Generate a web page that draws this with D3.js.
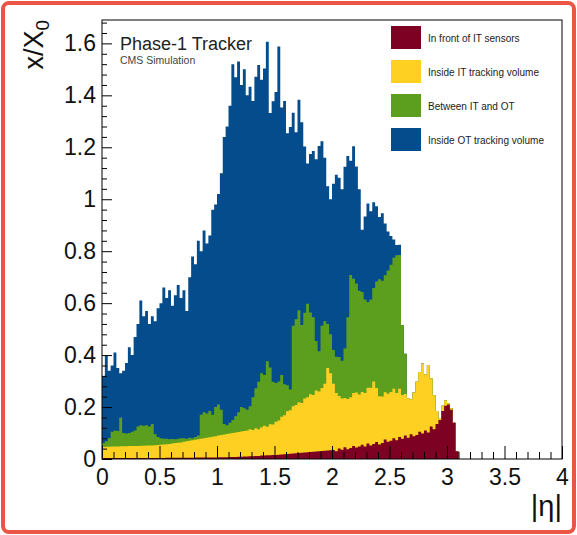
<!DOCTYPE html>
<html>
<head>
<meta charset="utf-8">
<script src="https://cdn.jsdelivr.net/npm/d3@7/dist/d3.min.js"></script>
<style>
  html, body { margin: 0; padding: 0; background: #fff; }
  svg { display: block; font-family: "Liberation Sans", Arial, Helvetica, sans-serif; }
</style>
</head>
<body>
<svg id="chart" width="577" height="535"></svg>
<script>
// Material budget of the Phase-1 tracker vs |eta|, bins of 0.025 starting at |eta| = 0
const binWidth = 0.025;

// In front of IT sensors
const frontIT = [
  0.004,0.004,0.004,0.004,0.004,0.004,0.004,0.004,0.004,0.004,
  0.004,0.004,0.004,0.004,0.004,0.004,0.004,0.004,0.004,0.004,
  0.004,0.004,0.005,0.005,0.005,0.005,0.005,0.005,0.005,0.005,
  0.005,0.005,0.006,0.006,0.006,0.006,0.006,0.006,0.006,0.006,
  0.007,0.007,0.007,0.007,0.008,0.008,0.008,0.009,0.009,0.010,
  0.010,0.011,0.011,0.012,0.012,0.013,0.013,0.014,0.014,0.015,
  0.015,0.016,0.017,0.018,0.019,0.020,0.021,0.022,0.023,0.024,
  0.025,0.026,0.027,0.028,0.029,0.030,0.031,0.032,0.033,0.034,
  0.035,0.030,0.040,0.036,0.045,0.038,0.042,0.050,0.044,0.048,
  0.055,0.048,0.060,0.052,0.058,0.065,0.056,0.062,0.075,0.066,
  0.070,0.080,0.072,0.085,0.078,0.090,0.082,0.095,0.088,0.092,
  0.105,0.098,0.110,0.102,0.125,0.115,0.135,0.150,0.185,0.205,
  0.210,0.190,0.140,0.030
];

// Inside IT tracking volume
const insideIT = [
  0.042,0.043,0.043,0.044,0.044,0.044,0.045,0.045,0.045,0.046,
  0.046,0.046,0.046,0.047,0.047,0.048,0.048,0.048,0.049,0.050,
  0.051,0.052,0.052,0.053,0.055,0.057,0.058,0.059,0.061,0.063,
  0.065,0.067,0.068,0.070,0.072,0.074,0.076,0.078,0.080,0.082,
  0.083,0.085,0.087,0.089,0.090,0.092,0.094,0.095,0.097,0.098,
  0.100,0.104,0.101,0.106,0.103,0.109,0.115,0.110,0.120,0.118,
  0.128,0.132,0.146,0.150,0.165,0.168,0.182,0.186,0.195,0.192,
  0.208,0.212,0.222,0.218,0.235,0.230,0.242,0.258,0.317,0.296,
  0.255,0.224,0.203,0.197,0.190,0.193,0.196,0.204,0.212,0.200,
  0.203,0.206,0.214,0.222,0.240,0.208,0.186,0.179,0.182,0.185,
  0.188,0.190,0.182,0.185,0.168,0.160,0.152,0.135,0.168,0.205,
  0.230,0.270,0.215,0.260,0.185,0.130,0.050,0.005,0.020,0.020,
  0.005,0.005,0.000,0.000
];

// Between IT and OT
const betweenITOT = [
  0.016,0.021,0.033,0.057,0.062,0.060,0.111,0.051,0.049,0.050,
  0.055,0.060,0.075,0.079,0.077,0.078,0.073,0.083,0.042,0.031,
  0.025,0.022,0.021,0.018,0.017,0.014,0.015,0.016,0.014,0.010,
  0.012,0.008,0.011,0.014,0.092,0.100,0.093,0.101,0.084,0.112,
  0.120,0.098,0.041,0.034,0.042,0.050,0.063,0.076,0.094,0.087,
  0.080,0.088,0.126,0.154,0.182,0.208,0.195,0.252,0.218,0.164,
  0.150,0.150,0.160,0.120,0.100,0.080,0.310,0.330,0.355,0.300,
  0.330,0.360,0.315,0.300,0.190,0.155,0.240,0.240,0.170,0.150,
  0.130,0.140,0.150,0.145,0.190,0.315,0.470,0.440,0.420,0.400,
  0.385,0.360,0.330,0.340,0.360,0.410,0.450,0.445,0.450,0.475,
  0.490,0.505,0.530,0.515,0.270,0.155,0.000,0.000,0.000,0.000,
  0.000,0.000,0.000,0.000,0.000,0.000,0.000,0.000,0.000,0.000,
  0.000,0.000,0.000,0.000
];

// Inside OT tracking volume
const insideOT = [
  0.258,0.332,0.260,0.255,0.300,0.242,0.170,0.240,0.272,0.330,
  0.295,0.360,0.395,0.480,0.422,0.440,0.395,0.415,0.435,0.495,
  0.520,0.582,0.542,0.574,0.513,0.554,0.592,0.540,0.570,0.492,
  0.618,0.700,0.665,0.750,0.630,0.700,0.655,0.675,0.790,0.780,
  0.810,0.910,1.105,1.150,1.220,1.370,1.305,1.350,1.240,1.305,
  1.210,1.230,1.140,1.200,1.220,1.130,1.180,1.230,0.980,1.080,
  1.120,1.290,1.030,1.090,0.970,1.010,0.820,0.720,0.810,0.780,
  0.640,0.540,0.610,0.640,0.700,0.790,0.710,0.630,0.530,0.520,
  0.640,0.700,0.690,0.660,0.700,0.620,0.440,0.510,0.450,0.390,
  0.240,0.320,0.380,0.340,0.330,0.290,0.240,0.260,0.200,0.150,
  0.110,0.070,0.040,0.040,0.000,0.000,0.000,0.000,0.000,0.000,
  0.000,0.000,0.000,0.000,0.000,0.000,0.000,0.000,0.000,0.000,
  0.000,0.000,0.000,0.000
];

const seriesKeys   = ["front", "insideIT", "between", "insideOT"];
const seriesLabels = ["In front of IT sensors", "Inside IT tracking volume", "Between IT and OT", "Inside OT tracking volume"];
const seriesColors = ["#7c0123", "#fdd022", "#5c9f1f", "#044c8c"];

const xMajorTicks = [0, 0.5, 1, 1.5, 2, 2.5, 3, 3.5, 4];
const yMajorTicks = [0, 0.2, 0.4, 0.6, 0.8, 1, 1.2, 1.4, 1.6];
const xDomain = [0, 4];
const yDomain = [0, 1.69];

const svg = d3.select("#chart");
const W = 577, H = 535;

// outer red frame
svg.append("rect")
  .attr("x", 3).attr("y", 3).attr("width", W - 6).attr("height", H - 6)
  .attr("rx", 6).attr("ry", 6)
  .attr("fill", "#fff").attr("stroke", "#ea5546").attr("stroke-width", 4);

const plot = { left: 102, right: 562, top: 20, bottom: 459 };
const x = d3.scaleLinear().domain(xDomain).range([plot.left, plot.right]);
const y = d3.scaleLinear().domain(yDomain).range([plot.bottom, plot.top]);

// table of bins
const rows = frontIT.map((_, i) => ({
  eta: i * binWidth,
  front: frontIT[i],
  insideIT: insideIT[i],
  between: betweenITOT[i],
  insideOT: insideOT[i]
}));
// closing edge of the last bin for the step outline
rows.push(Object.assign({}, rows[rows.length - 1], { eta: rows.length * binWidth }));

const stacked = d3.stack().keys(seriesKeys)(rows);

// each layer filled from zero up to its cumulative top, outermost first
const area = d3.area()
  .x(d => x(d.data.eta))
  .y0(y(0))
  .y1(d => y(d[1]))
  .curve(d3.curveStepAfter);

const hist = svg.append("g");
stacked.slice().reverse().forEach(s => {
  const idx = seriesKeys.indexOf(s.key);
  hist.append("path")
    .datum(s)
    .attr("d", area)
    .attr("fill", seriesColors[idx])
    .attr("stroke", "none");
});

// frame
svg.append("rect")
  .attr("x", plot.left).attr("y", plot.top)
  .attr("width", plot.right - plot.left).attr("height", plot.bottom - plot.top)
  .attr("fill", "none").attr("stroke", "#000").attr("stroke-width", 1);

const fmt = d3.format("~g");
const tickFont = 23;

// x axis: major + minor ticks pointing inwards
const xMinor = d3.range(0, 40.5, 1).map(v => v / 10).filter(v => Math.round(v * 10) % 5 !== 0);
const gxMinor = svg.append("g").attr("transform", `translate(0,${plot.bottom})`)
  .call(d3.axisBottom(x).tickValues(xMinor).tickSizeInner(-7).tickSizeOuter(0).tickFormat(""));
const gx = svg.append("g").attr("transform", `translate(0,${plot.bottom})`)
  .call(d3.axisBottom(x).tickValues(xMajorTicks).tickSizeInner(-13).tickSizeOuter(0).tickPadding(10).tickFormat(fmt));

// y axis
const yMinor = d3.range(0, 43, 1).map(v => v * 0.04).filter(v => v <= yDomain[1] && Math.round(v * 100) % 20 !== 0);
const gyMinor = svg.append("g").attr("transform", `translate(${plot.left},0)`)
  .call(d3.axisLeft(y).tickValues(yMinor).tickSizeInner(-5).tickSizeOuter(0).tickFormat(""));
const gy = svg.append("g").attr("transform", `translate(${plot.left},0)`)
  .call(d3.axisLeft(y).tickValues(yMajorTicks).tickSizeInner(-10).tickSizeOuter(0).tickPadding(6).tickFormat(fmt));

[gx, gxMinor, gy, gyMinor].forEach(g => {
  g.select(".domain").remove();
  g.selectAll(".tick line").attr("stroke", "#000").attr("stroke-width", 1);
  g.selectAll(".tick text").attr("fill", "#111").attr("font-size", tickFont)
    .attr("font-family", "'Liberation Sans', Arial, sans-serif");
});

// axis titles
const yTitle = svg.append("text")
  .attr("transform", `translate(43,${plot.top}) rotate(-90)`)
  .attr("text-anchor", "end")
  .attr("font-size", 27).attr("fill", "#111");
yTitle.append("tspan").text("x/X");
yTitle.append("tspan").attr("font-size", 19).attr("dy", 6).text("0");

svg.append("text")
  .attr("x", plot.right).attr("y", 516)
  .attr("text-anchor", "end")
  .attr("font-size", 29).attr("fill", "#111")
  .text("|η|");

// labels inside the frame
svg.append("text")
  .attr("x", 120).attr("y", 50)
  .attr("font-size", 18).attr("fill", "#222")
  .text("Phase-1 Tracker");
svg.append("text")
  .attr("x", 120).attr("y", 64)
  .attr("font-size", 10.5).attr("fill", "#444")
  .text("CMS Simulation");

// legend
const legend = svg.append("g").attr("transform", "translate(391,26)");
seriesKeys.forEach((k, i) => {
  const g = legend.append("g").attr("transform", `translate(0,${i * 34})`);
  g.append("rect").attr("width", 30).attr("height", 23).attr("fill", seriesColors[i]);
  g.append("text").attr("x", 37).attr("y", 15.5)
    .attr("font-size", 10).attr("fill", "#222")
    .text(seriesLabels[i]);
});
</script>
</body>
</html>
